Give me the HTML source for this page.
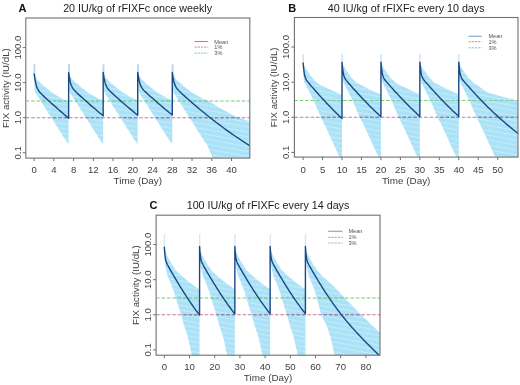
<!DOCTYPE html>
<html><head><meta charset="utf-8"><style>
html,body{margin:0;padding:0;background:#fff;}
body{width:520px;height:385px;position:relative;overflow:hidden;font-family:"Liberation Sans", sans-serif;}
svg text{font-family:"Liberation Sans", sans-serif;}
</style></head><body>
<svg xmlns="http://www.w3.org/2000/svg" width="520" height="385" viewBox="0 0 520 385" style="position:absolute;left:0;top:0;filter:blur(0.35px)">
<defs>
<clipPath id="clipA"><rect x="25.8" y="18" width="224.00" height="140.10"/></clipPath>
<clipPath id="clipB"><rect x="294.4" y="17.5" width="223.60" height="139.60"/></clipPath>
<clipPath id="clipC"><rect x="156.1" y="215.2" width="223.90" height="140.00"/></clipPath>
<pattern id="hatch" patternUnits="userSpaceOnUse" width="12" height="4.8" patternTransform="rotate(10)"><rect width="12" height="4.8" fill="#abe2f7"/><rect y="0" width="12" height="0.8" fill="#fff" fill-opacity="0.38"/></pattern>
</defs>
<g clip-path="url(#clipA)">
<path d="M34.1,73.48 L34.2,73.91 L34.35,74.2 L34.59,74.69 L34.84,75.18 L35.09,75.67 L35.58,76.66 L36.07,77.47 L36.57,78.29 L37.31,79.51 L38.05,80.7 L39.04,81.58 L40.27,82.69 L41.5,83.8 L42.74,84.91 L43.97,86.02 L46.44,88.17 L48.91,90.12 L51.37,92.07 L53.84,93.97 L56.31,95.33 L58.77,96.7 L61.24,98.07 L63.71,99.44 L66.18,100.31 L68.64,101.19 L68.64,144.3 L66.18,141.08 L63.71,137.19 L61.24,133.29 L58.77,129.4 L56.31,125.51 L53.84,121.62 L51.37,117.73 L48.91,113.84 L46.44,109.94 L43.97,106.05 L42.74,104.11 L41.5,102.16 L40.27,100.21 L39.04,98.27 L38.05,96.71 L37.31,95.54 L36.57,94.38 L36.07,93.6 L35.58,92.82 L35.09,92.04 L34.84,90.83 L34.59,89.62 L34.35,81.67 L34.2,76.89 L34.1,73.71Z" fill="url(#hatch)"/>
<path d="M68.64,72.69 L68.74,73.1 L68.89,73.39 L69.14,73.87 L69.39,74.34 L69.63,74.82 L70.13,75.77 L70.62,76.56 L71.11,77.35 L71.85,78.54 L72.59,79.69 L73.58,80.57 L74.81,81.67 L76.05,82.77 L77.28,83.87 L78.52,84.98 L80.98,87.11 L83.45,89.06 L85.92,91.01 L88.38,92.9 L90.85,94.3 L93.32,95.7 L95.79,97.09 L98.25,98.49 L100.72,99.41 L103.19,100.34 L103.19,144.3 L100.72,141.08 L98.25,137.19 L95.79,133.29 L93.32,129.4 L90.85,125.51 L88.38,121.62 L85.92,117.73 L83.45,113.84 L80.98,109.94 L78.52,106.05 L77.28,104.11 L76.05,102.16 L74.81,100.21 L73.58,98.27 L72.59,96.71 L71.85,95.54 L71.11,94.38 L70.62,93.6 L70.13,92.82 L69.63,92.04 L69.39,90.83 L69.14,89.62 L68.89,81.67 L68.74,76.89 L68.64,73.71Z" fill="url(#hatch)"/>
<path d="M103.19,72.56 L103.29,72.97 L103.44,73.25 L103.68,73.72 L103.93,74.2 L104.18,74.67 L104.67,75.61 L105.16,76.4 L105.66,77.19 L106.4,78.37 L107.14,79.51 L108.12,80.39 L109.36,81.49 L110.59,82.59 L111.83,83.68 L113.06,84.78 L115.53,86.91 L118,88.86 L120.46,90.8 L122.93,92.69 L125.4,94.09 L127.86,95.49 L130.33,96.88 L132.8,98.28 L135.27,99.21 L137.73,100.14 L137.73,144.3 L135.27,141.08 L132.8,137.19 L130.33,133.29 L127.86,129.4 L125.4,125.51 L122.93,121.62 L120.46,117.73 L118,113.84 L115.53,109.94 L113.06,106.05 L111.83,104.11 L110.59,102.16 L109.36,100.21 L108.12,98.27 L107.14,96.71 L106.4,95.54 L105.66,94.38 L105.16,93.6 L104.67,92.82 L104.18,92.04 L103.93,90.83 L103.68,89.62 L103.44,81.67 L103.29,76.89 L103.19,73.71Z" fill="url(#hatch)"/>
<path d="M137.73,72.53 L137.83,72.93 L137.98,73.22 L138.23,73.69 L138.48,74.16 L138.72,74.63 L139.22,75.58 L139.71,76.36 L140.2,77.15 L140.94,78.32 L141.68,79.46 L142.67,80.34 L143.9,81.44 L145.14,82.54 L146.37,83.64 L147.6,84.73 L150.07,86.86 L152.54,88.8 L155.01,90.74 L157.47,92.63 L159.94,94.03 L162.41,95.43 L164.88,96.83 L167.34,98.22 L169.81,99.15 L172.28,100.09 L172.28,144.3 L169.81,141.08 L167.34,137.19 L164.88,133.29 L162.41,129.4 L159.94,125.51 L157.47,121.62 L155.01,117.73 L152.54,113.84 L150.07,109.94 L147.6,106.05 L146.37,104.11 L145.14,102.16 L143.9,100.21 L142.67,98.27 L141.68,96.71 L140.94,95.54 L140.2,94.38 L139.71,93.6 L139.22,92.82 L138.72,92.04 L138.48,90.83 L138.23,89.62 L137.98,81.67 L137.83,76.89 L137.73,73.71Z" fill="url(#hatch)"/>
<path d="M172.28,72.52 L172.38,72.93 L172.53,73.21 L172.77,73.68 L173.02,74.15 L173.27,74.62 L173.76,75.57 L174.25,76.35 L174.75,77.14 L175.49,78.31 L176.23,79.45 L177.21,80.33 L178.45,81.43 L179.68,82.53 L180.92,83.62 L182.15,84.72 L184.62,86.84 L187.08,88.79 L189.55,90.73 L192.02,92.61 L194.49,94.01 L196.95,95.41 L199.42,96.81 L201.89,98.2 L204.36,99.14 L206.82,100.07 L209.29,101.59 L211.76,103.1 L214.23,104.61 L216.69,106.12 L219.16,107.63 L221.63,108.97 L224.1,110.29 L226.56,111.6 L229.03,112.92 L231.5,114.23 L233.97,115.54 L236.43,116.71 L238.9,117.62 L241.37,118.51 L243.84,119.41 L246.3,120.31 L248.77,121.21 L251.24,122.11 L251.28,122.12 L251.28,229.9 L251.24,229.82 L248.77,225.18 L246.3,220.54 L243.84,215.89 L241.37,211.25 L238.9,206.6 L236.43,201.96 L233.97,197.32 L231.5,192.67 L229.03,188.03 L226.56,183.38 L224.1,178.74 L221.63,174.09 L219.16,169.45 L216.69,164.81 L214.23,160.16 L211.76,155.52 L209.29,149.91 L206.82,144.3 L204.36,141.08 L201.89,137.19 L199.42,133.29 L196.95,129.4 L194.49,125.51 L192.02,121.62 L189.55,117.73 L187.08,113.84 L184.62,109.94 L182.15,106.05 L180.92,104.11 L179.68,102.16 L178.45,100.21 L177.21,98.27 L176.23,96.71 L175.49,95.54 L174.75,94.38 L174.25,93.6 L173.76,92.82 L173.27,92.04 L173.02,90.83 L172.77,89.62 L172.53,81.67 L172.38,76.89 L172.28,73.71Z" fill="url(#hatch)"/>
<path d="M33.50,74.48 V64.20 h1.9 V76.48Z M68.05,73.69 V64.20 h1.9 V75.69Z M102.59,73.56 V64.20 h1.9 V75.56Z M137.13,73.53 V64.20 h1.9 V75.53Z M171.68,73.52 V64.20 h1.9 V75.52Z" fill="#b8d8f2"/>
<clipPath id="bandA"><path d="M34.1,73.48 L34.2,73.91 L34.35,74.2 L34.59,74.69 L34.84,75.18 L35.09,75.67 L35.58,76.66 L36.07,77.47 L36.57,78.29 L37.31,79.51 L38.05,80.7 L39.04,81.58 L40.27,82.69 L41.5,83.8 L42.74,84.91 L43.97,86.02 L46.44,88.17 L48.91,90.12 L51.37,92.07 L53.84,93.97 L56.31,95.33 L58.77,96.7 L61.24,98.07 L63.71,99.44 L66.18,100.31 L68.64,101.19 L68.64,144.3 L66.18,141.08 L63.71,137.19 L61.24,133.29 L58.77,129.4 L56.31,125.51 L53.84,121.62 L51.37,117.73 L48.91,113.84 L46.44,109.94 L43.97,106.05 L42.74,104.11 L41.5,102.16 L40.27,100.21 L39.04,98.27 L38.05,96.71 L37.31,95.54 L36.57,94.38 L36.07,93.6 L35.58,92.82 L35.09,92.04 L34.84,90.83 L34.59,89.62 L34.35,81.67 L34.2,76.89 L34.1,73.71Z M68.64,72.69 L68.74,73.1 L68.89,73.39 L69.14,73.87 L69.39,74.34 L69.63,74.82 L70.13,75.77 L70.62,76.56 L71.11,77.35 L71.85,78.54 L72.59,79.69 L73.58,80.57 L74.81,81.67 L76.05,82.77 L77.28,83.87 L78.52,84.98 L80.98,87.11 L83.45,89.06 L85.92,91.01 L88.38,92.9 L90.85,94.3 L93.32,95.7 L95.79,97.09 L98.25,98.49 L100.72,99.41 L103.19,100.34 L103.19,144.3 L100.72,141.08 L98.25,137.19 L95.79,133.29 L93.32,129.4 L90.85,125.51 L88.38,121.62 L85.92,117.73 L83.45,113.84 L80.98,109.94 L78.52,106.05 L77.28,104.11 L76.05,102.16 L74.81,100.21 L73.58,98.27 L72.59,96.71 L71.85,95.54 L71.11,94.38 L70.62,93.6 L70.13,92.82 L69.63,92.04 L69.39,90.83 L69.14,89.62 L68.89,81.67 L68.74,76.89 L68.64,73.71Z M103.19,72.56 L103.29,72.97 L103.44,73.25 L103.68,73.72 L103.93,74.2 L104.18,74.67 L104.67,75.61 L105.16,76.4 L105.66,77.19 L106.4,78.37 L107.14,79.51 L108.12,80.39 L109.36,81.49 L110.59,82.59 L111.83,83.68 L113.06,84.78 L115.53,86.91 L118,88.86 L120.46,90.8 L122.93,92.69 L125.4,94.09 L127.86,95.49 L130.33,96.88 L132.8,98.28 L135.27,99.21 L137.73,100.14 L137.73,144.3 L135.27,141.08 L132.8,137.19 L130.33,133.29 L127.86,129.4 L125.4,125.51 L122.93,121.62 L120.46,117.73 L118,113.84 L115.53,109.94 L113.06,106.05 L111.83,104.11 L110.59,102.16 L109.36,100.21 L108.12,98.27 L107.14,96.71 L106.4,95.54 L105.66,94.38 L105.16,93.6 L104.67,92.82 L104.18,92.04 L103.93,90.83 L103.68,89.62 L103.44,81.67 L103.29,76.89 L103.19,73.71Z M137.73,72.53 L137.83,72.93 L137.98,73.22 L138.23,73.69 L138.48,74.16 L138.72,74.63 L139.22,75.58 L139.71,76.36 L140.2,77.15 L140.94,78.32 L141.68,79.46 L142.67,80.34 L143.9,81.44 L145.14,82.54 L146.37,83.64 L147.6,84.73 L150.07,86.86 L152.54,88.8 L155.01,90.74 L157.47,92.63 L159.94,94.03 L162.41,95.43 L164.88,96.83 L167.34,98.22 L169.81,99.15 L172.28,100.09 L172.28,144.3 L169.81,141.08 L167.34,137.19 L164.88,133.29 L162.41,129.4 L159.94,125.51 L157.47,121.62 L155.01,117.73 L152.54,113.84 L150.07,109.94 L147.6,106.05 L146.37,104.11 L145.14,102.16 L143.9,100.21 L142.67,98.27 L141.68,96.71 L140.94,95.54 L140.2,94.38 L139.71,93.6 L139.22,92.82 L138.72,92.04 L138.48,90.83 L138.23,89.62 L137.98,81.67 L137.83,76.89 L137.73,73.71Z M172.28,72.52 L172.38,72.93 L172.53,73.21 L172.77,73.68 L173.02,74.15 L173.27,74.62 L173.76,75.57 L174.25,76.35 L174.75,77.14 L175.49,78.31 L176.23,79.45 L177.21,80.33 L178.45,81.43 L179.68,82.53 L180.92,83.62 L182.15,84.72 L184.62,86.84 L187.08,88.79 L189.55,90.73 L192.02,92.61 L194.49,94.01 L196.95,95.41 L199.42,96.81 L201.89,98.2 L204.36,99.14 L206.82,100.07 L209.29,101.59 L211.76,103.1 L214.23,104.61 L216.69,106.12 L219.16,107.63 L221.63,108.97 L224.1,110.29 L226.56,111.6 L229.03,112.92 L231.5,114.23 L233.97,115.54 L236.43,116.71 L238.9,117.62 L241.37,118.51 L243.84,119.41 L246.3,120.31 L248.77,121.21 L251.24,122.11 L251.28,122.12 L251.28,229.9 L251.24,229.82 L248.77,225.18 L246.3,220.54 L243.84,215.89 L241.37,211.25 L238.9,206.6 L236.43,201.96 L233.97,197.32 L231.5,192.67 L229.03,188.03 L226.56,183.38 L224.1,178.74 L221.63,174.09 L219.16,169.45 L216.69,164.81 L214.23,160.16 L211.76,155.52 L209.29,149.91 L206.82,144.3 L204.36,141.08 L201.89,137.19 L199.42,133.29 L196.95,129.4 L194.49,125.51 L192.02,121.62 L189.55,117.73 L187.08,113.84 L184.62,109.94 L182.15,106.05 L180.92,104.11 L179.68,102.16 L178.45,100.21 L177.21,98.27 L176.23,96.71 L175.49,95.54 L174.75,94.38 L174.25,93.6 L173.76,92.82 L173.27,92.04 L173.02,90.83 L172.77,89.62 L172.53,81.67 L172.38,76.89 L172.28,73.71Z"/></clipPath>
<line x1="25.8" y1="117.70" x2="249.8" y2="117.70" stroke="#c47a9e" stroke-width="1.05" stroke-dasharray="3.6 1.8"/>
<line x1="25.8" y1="117.70" x2="249.8" y2="117.70" stroke="#80829f" stroke-width="1.05" stroke-dasharray="3.6 1.8" clip-path="url(#bandA)"/>
<line x1="25.8" y1="100.98" x2="249.8" y2="100.98" stroke="#76d076" stroke-width="1.05" stroke-dasharray="3.6 1.8"/>
<line x1="25.8" y1="100.98" x2="249.8" y2="100.98" stroke="#7ccfac" stroke-width="1.05" stroke-dasharray="3.6 1.8" clip-path="url(#bandA)"/>
<path d="M34.1,73.48 L34.2,74.22 L34.35,75.29 L34.59,76.98 L34.84,78.55 L35.09,79.99 L35.58,82.5 L36.07,84.57 L36.57,86.26 L37.31,88.23 L38.05,89.71 L39.04,91.23 L40.27,92.72 L41.5,94.01 L42.74,95.21 L43.97,96.38 L46.44,98.66 L48.91,100.92 L51.37,103.16 L53.84,105.38 L56.31,107.57 L58.77,109.75 L61.24,111.9 L63.71,114.03 L66.18,116.13 L68.64,118.21 L68.64,72.69 L68.74,73.4 L68.89,74.42 L69.14,76.03 L69.39,77.5 L69.63,78.86 L70.13,81.21 L70.62,83.14 L71.11,84.71 L71.85,86.54 L72.59,87.93 L73.58,89.37 L74.81,90.8 L76.05,92.06 L77.28,93.24 L78.52,94.38 L80.98,96.62 L83.45,98.84 L85.92,101.03 L88.38,103.21 L90.85,105.35 L93.32,107.48 L95.79,109.58 L98.25,111.66 L100.72,113.71 L103.19,115.74 L103.19,72.56 L103.29,73.26 L103.44,74.27 L103.68,75.86 L103.93,77.33 L104.18,78.67 L104.67,80.99 L105.16,82.9 L105.66,84.45 L106.4,86.26 L107.14,87.63 L108.12,89.05 L109.36,90.47 L110.59,91.71 L111.83,92.88 L113.06,94.02 L115.53,96.25 L118,98.45 L120.46,100.63 L122.93,102.78 L125.4,104.91 L127.86,107.02 L130.33,109.11 L132.8,111.16 L135.27,113.2 L137.73,115.2 L137.73,72.53 L137.83,73.23 L137.98,74.24 L138.23,75.82 L138.48,77.28 L138.72,78.62 L139.22,80.94 L139.71,82.84 L140.2,84.39 L140.94,86.19 L141.68,87.56 L142.67,88.97 L143.9,90.39 L145.14,91.63 L146.37,92.8 L147.6,93.93 L150.07,96.16 L152.54,98.35 L155.01,100.52 L157.47,102.67 L159.94,104.8 L162.41,106.9 L164.88,108.98 L167.34,111.03 L169.81,113.06 L172.28,115.06 L172.28,72.52 L172.38,73.22 L172.53,74.23 L172.77,75.81 L173.02,77.27 L173.27,78.61 L173.76,80.93 L174.25,82.83 L174.75,84.37 L175.49,86.17 L176.23,87.54 L177.21,88.95 L178.45,90.37 L179.68,91.61 L180.92,92.77 L182.15,93.91 L184.62,96.13 L187.08,98.32 L189.55,100.49 L192.02,102.64 L194.49,104.77 L196.95,106.87 L199.42,108.94 L201.89,110.99 L204.36,113.02 L206.82,115.02 L209.29,116.99 L211.76,118.94 L214.23,120.86 L216.69,122.75 L219.16,124.62 L221.63,126.46 L224.1,128.27 L226.56,130.06 L229.03,131.82 L231.5,133.56 L233.97,135.28 L236.43,136.97 L238.9,138.63 L241.37,140.28 L243.84,141.9 L246.3,143.51 L248.77,145.09 L251.24,146.65 L251.28,146.68" fill="none" stroke="#1b4882" stroke-width="1.4" stroke-linejoin="round"/>
</g>
<rect x="25.8" y="18" width="224.00" height="140.10" fill="none" stroke="#707070" stroke-width="1.1"/>
<path d="M34.10,158.1 v3 M53.84,158.1 v3 M73.58,158.1 v3 M93.32,158.1 v3 M113.06,158.1 v3 M132.80,158.1 v3 M152.54,158.1 v3 M172.28,158.1 v3 M192.02,158.1 v3 M211.76,158.1 v3 M231.50,158.1 v3 M25.8,152.75 h-3 M25.8,117.70 h-3 M25.8,82.65 h-3 M25.8,47.60 h-3" stroke="#707070" stroke-width="1" fill="none"/>
<text x="34.10" y="173.10" font-size="9.6" text-anchor="middle" fill="#404040">0</text>
<text x="53.84" y="173.10" font-size="9.6" text-anchor="middle" fill="#404040">4</text>
<text x="73.58" y="173.10" font-size="9.6" text-anchor="middle" fill="#404040">8</text>
<text x="93.32" y="173.10" font-size="9.6" text-anchor="middle" fill="#404040">12</text>
<text x="113.06" y="173.10" font-size="9.6" text-anchor="middle" fill="#404040">16</text>
<text x="132.80" y="173.10" font-size="9.6" text-anchor="middle" fill="#404040">20</text>
<text x="152.54" y="173.10" font-size="9.6" text-anchor="middle" fill="#404040">24</text>
<text x="172.28" y="173.10" font-size="9.6" text-anchor="middle" fill="#404040">28</text>
<text x="192.02" y="173.10" font-size="9.6" text-anchor="middle" fill="#404040">32</text>
<text x="211.76" y="173.10" font-size="9.6" text-anchor="middle" fill="#404040">36</text>
<text x="231.50" y="173.10" font-size="9.6" text-anchor="middle" fill="#404040">40</text>
<text transform="translate(20.85,152.75) rotate(-90)" font-size="9.6" text-anchor="middle" fill="#404040">0.1</text>
<text transform="translate(20.85,117.70) rotate(-90)" font-size="9.6" text-anchor="middle" fill="#404040">1.0</text>
<text transform="translate(20.85,82.65) rotate(-90)" font-size="9.6" text-anchor="middle" fill="#404040">10.0</text>
<text transform="translate(20.85,47.60) rotate(-90)" font-size="9.6" text-anchor="middle" fill="#404040">100.0</text>
<text x="137.80" y="184.10" font-size="9.9" text-anchor="middle" fill="#404040">Time (Day)</text>
<text transform="translate(9.20,88.05) rotate(-90)" font-size="9.7" text-anchor="middle" fill="#404040">FIX activity (IU/dL)</text>
<text x="137.6" y="11.9" font-size="10.73" text-anchor="middle" fill="#1a1a1a">20 IU/kg of rFIXFc once weekly</text>
<text x="18.5" y="11.9" font-size="11" font-weight="bold" fill="#111">A</text>
<line x1="194.6" y1="41.5" x2="208.1" y2="41.5" stroke="#5d8ec4" stroke-width="0.9"/>
<line x1="194.6" y1="47.1" x2="208.1" y2="47.1" stroke="#c47a9e" stroke-width="0.9" stroke-dasharray="2.2 1"/>
<line x1="194.6" y1="53.1" x2="208.1" y2="53.1" stroke="#76d076" stroke-width="0.9" stroke-dasharray="2.2 1"/>
<text x="214.3" y="43.50" font-size="5.6" fill="#555">Mean</text>
<text x="214.3" y="49.10" font-size="5.6" fill="#555">1%</text>
<text x="214.3" y="55.10" font-size="5.6" fill="#555">3%</text>
<g clip-path="url(#clipB)">
<path d="M303.1,62.07 L303.18,62.5 L303.29,63.13 L303.49,63.62 L303.68,64.11 L303.88,64.6 L304.27,65.59 L304.66,66.3 L305.05,67.02 L305.63,68.1 L306.21,69.16 L306.99,70.3 L307.97,71.72 L308.94,73.15 L309.91,74.58 L310.88,76 L312.83,78.59 L314.78,80.5 L316.72,82.42 L318.67,84 L320.61,84.94 L322.56,85.89 L324.51,86.83 L326.45,87.78 L328.4,88.72 L330.34,89.66 L332.29,90.61 L334.24,91.52 L336.18,92.36 L338.13,93.21 L340.07,94.05 L342.02,94.74 L342.02,162.9 L340.07,158.28 L338.13,153.92 L336.18,149.69 L334.24,145.46 L332.29,141.23 L330.34,137 L328.4,132.77 L326.45,128.54 L324.51,124.39 L322.56,120.66 L320.61,116.84 L318.67,112.26 L316.72,107.68 L314.78,103.1 L312.83,98.84 L310.88,94.96 L309.91,93.02 L308.94,91.08 L307.97,89.15 L306.99,87.21 L306.21,85.66 L305.63,84.5 L305.05,83.33 L304.66,82.56 L304.27,81.78 L303.88,81.01 L303.68,79.8 L303.49,78.58 L303.29,70.33 L303.18,65.38 L303.1,62.55Z" fill="url(#hatch)"/>
<path d="M342.02,61.7 L342.1,62.11 L342.21,62.73 L342.41,63.22 L342.6,63.7 L342.8,64.18 L343.19,65.15 L343.58,65.86 L343.97,66.56 L344.55,67.62 L345.13,68.67 L345.91,69.8 L346.88,71.21 L347.86,72.61 L348.83,74.02 L349.8,75.43 L351.75,77.98 L353.7,79.88 L355.64,81.79 L357.59,83.37 L359.53,84.34 L361.48,85.31 L363.43,86.28 L365.37,87.24 L367.32,88.2 L369.26,89.17 L371.21,90.13 L373.16,91.05 L375.1,91.92 L377.05,92.78 L378.99,93.64 L380.94,94.35 L380.94,162.9 L378.99,158.28 L377.05,153.92 L375.1,149.69 L373.16,145.46 L371.21,141.23 L369.26,137 L367.32,132.77 L365.37,128.54 L363.43,124.39 L361.48,120.66 L359.53,116.84 L357.59,112.26 L355.64,107.68 L353.7,103.1 L351.75,98.84 L349.8,94.96 L348.83,93.02 L347.86,91.08 L346.88,89.15 L345.91,87.21 L345.13,85.66 L344.55,84.5 L343.97,83.33 L343.58,82.56 L343.19,81.78 L342.8,81.01 L342.6,79.8 L342.41,78.58 L342.21,70.33 L342.1,65.38 L342.02,62.17Z" fill="url(#hatch)"/>
<path d="M380.94,61.66 L381.02,62.07 L381.13,62.68 L381.33,63.17 L381.52,63.65 L381.72,64.13 L382.11,65.1 L382.5,65.8 L382.89,66.51 L383.47,67.56 L384.05,68.61 L384.83,69.73 L385.81,71.14 L386.78,72.54 L387.75,73.94 L388.72,75.35 L390.67,77.9 L392.62,79.8 L394.56,81.69 L396.51,83.28 L398.45,84.25 L400.4,85.22 L402.35,86.19 L404.29,87.15 L406.24,88.12 L408.18,89.08 L410.13,90.05 L412.08,90.98 L414.02,91.84 L415.97,92.7 L417.91,93.56 L419.86,94.28 L419.86,162.9 L417.91,158.28 L415.97,153.92 L414.02,149.69 L412.08,145.46 L410.13,141.23 L408.18,137 L406.24,132.77 L404.29,128.54 L402.35,124.39 L400.4,120.66 L398.45,116.84 L396.51,112.26 L394.56,107.68 L392.62,103.1 L390.67,98.84 L388.72,94.96 L387.75,93.02 L386.78,91.08 L385.81,89.15 L384.83,87.21 L384.05,85.66 L383.47,84.5 L382.89,83.33 L382.5,82.56 L382.11,81.78 L381.72,81.01 L381.52,79.8 L381.33,78.58 L381.13,70.33 L381.02,65.38 L380.94,62.12Z" fill="url(#hatch)"/>
<path d="M419.86,61.65 L419.94,62.06 L420.05,62.68 L420.25,63.16 L420.44,63.64 L420.64,64.12 L421.03,65.09 L421.42,65.79 L421.81,66.5 L422.39,67.55 L422.97,68.59 L423.75,69.72 L424.73,71.12 L425.7,72.53 L426.67,73.93 L427.64,75.33 L429.59,77.88 L431.54,79.78 L433.48,81.68 L435.43,83.26 L437.37,84.23 L439.32,85.2 L441.27,86.17 L443.21,87.14 L445.16,88.1 L447.1,89.07 L449.05,90.03 L451,90.96 L452.94,91.82 L454.89,92.69 L456.83,93.55 L458.78,94.26 L458.78,162.9 L456.83,158.28 L454.89,153.92 L452.94,149.69 L451,145.46 L449.05,141.23 L447.1,137 L445.16,132.77 L443.21,128.54 L441.27,124.39 L439.32,120.66 L437.37,116.84 L435.43,112.26 L433.48,107.68 L431.54,103.1 L429.59,98.84 L427.64,94.96 L426.67,93.02 L425.7,91.08 L424.73,89.15 L423.75,87.21 L422.97,85.66 L422.39,84.5 L421.81,83.33 L421.42,82.56 L421.03,81.78 L420.64,81.01 L420.44,79.8 L420.25,78.58 L420.05,70.33 L419.94,65.38 L419.86,62.11Z" fill="url(#hatch)"/>
<path d="M458.78,61.65 L458.86,62.06 L458.97,62.67 L459.17,63.16 L459.36,63.64 L459.56,64.12 L459.95,65.08 L460.34,65.79 L460.73,66.49 L461.31,67.55 L461.89,68.59 L462.67,69.72 L463.64,71.12 L464.62,72.53 L465.59,73.93 L466.56,75.33 L468.51,77.88 L470.46,79.78 L472.4,81.67 L474.35,83.38 L476.29,84.71 L478.24,86.04 L480.19,87.37 L482.13,88.7 L484.08,90.03 L486.02,91.35 L487.97,92.68 L489.92,93.23 L491.86,93.77 L493.81,94.31 L495.75,94.85 L497.7,95.38 L499.65,95.91 L501.59,96.45 L503.54,96.98 L505.48,97.5 L507.43,98.03 L509.38,98.56 L511.32,99.08 L513.27,99.6 L515.21,100.13 L517.16,100.66 L519.11,101.25 L519.17,101.27 L519.17,214.57 L519.11,214.42 L517.16,209.74 L515.21,205.05 L513.27,200.37 L511.32,195.68 L509.38,191 L507.43,186.32 L505.48,181.63 L503.54,176.95 L501.59,172.26 L499.65,167.58 L497.7,162.9 L495.75,158.28 L493.81,153.92 L491.86,149.69 L489.92,145.46 L487.97,141.23 L486.02,137 L484.08,132.77 L482.13,128.54 L480.19,124.39 L478.24,120.66 L476.29,116.84 L474.35,112.26 L472.4,107.68 L470.46,103.1 L468.51,98.84 L466.56,94.96 L465.59,93.02 L464.62,91.08 L463.64,89.15 L462.67,87.21 L461.89,85.66 L461.31,84.5 L460.73,83.33 L460.34,82.56 L459.95,81.78 L459.56,81.01 L459.36,79.8 L459.17,78.58 L458.97,70.33 L458.86,65.38 L458.78,62.11Z" fill="url(#hatch)"/>
<path d="M302.50,63.55 V54.33 h1.4 V65.55Z M341.42,63.17 V54.33 h1.4 V65.17Z M380.34,63.12 V54.33 h1.4 V65.12Z M419.26,63.11 V54.33 h1.4 V65.11Z M458.18,63.11 V54.33 h1.4 V65.11Z" fill="#cbe3f0"/>
<clipPath id="bandB"><path d="M303.1,62.07 L303.18,62.5 L303.29,63.13 L303.49,63.62 L303.68,64.11 L303.88,64.6 L304.27,65.59 L304.66,66.3 L305.05,67.02 L305.63,68.1 L306.21,69.16 L306.99,70.3 L307.97,71.72 L308.94,73.15 L309.91,74.58 L310.88,76 L312.83,78.59 L314.78,80.5 L316.72,82.42 L318.67,84 L320.61,84.94 L322.56,85.89 L324.51,86.83 L326.45,87.78 L328.4,88.72 L330.34,89.66 L332.29,90.61 L334.24,91.52 L336.18,92.36 L338.13,93.21 L340.07,94.05 L342.02,94.74 L342.02,162.9 L340.07,158.28 L338.13,153.92 L336.18,149.69 L334.24,145.46 L332.29,141.23 L330.34,137 L328.4,132.77 L326.45,128.54 L324.51,124.39 L322.56,120.66 L320.61,116.84 L318.67,112.26 L316.72,107.68 L314.78,103.1 L312.83,98.84 L310.88,94.96 L309.91,93.02 L308.94,91.08 L307.97,89.15 L306.99,87.21 L306.21,85.66 L305.63,84.5 L305.05,83.33 L304.66,82.56 L304.27,81.78 L303.88,81.01 L303.68,79.8 L303.49,78.58 L303.29,70.33 L303.18,65.38 L303.1,62.55Z M342.02,61.7 L342.1,62.11 L342.21,62.73 L342.41,63.22 L342.6,63.7 L342.8,64.18 L343.19,65.15 L343.58,65.86 L343.97,66.56 L344.55,67.62 L345.13,68.67 L345.91,69.8 L346.88,71.21 L347.86,72.61 L348.83,74.02 L349.8,75.43 L351.75,77.98 L353.7,79.88 L355.64,81.79 L357.59,83.37 L359.53,84.34 L361.48,85.31 L363.43,86.28 L365.37,87.24 L367.32,88.2 L369.26,89.17 L371.21,90.13 L373.16,91.05 L375.1,91.92 L377.05,92.78 L378.99,93.64 L380.94,94.35 L380.94,162.9 L378.99,158.28 L377.05,153.92 L375.1,149.69 L373.16,145.46 L371.21,141.23 L369.26,137 L367.32,132.77 L365.37,128.54 L363.43,124.39 L361.48,120.66 L359.53,116.84 L357.59,112.26 L355.64,107.68 L353.7,103.1 L351.75,98.84 L349.8,94.96 L348.83,93.02 L347.86,91.08 L346.88,89.15 L345.91,87.21 L345.13,85.66 L344.55,84.5 L343.97,83.33 L343.58,82.56 L343.19,81.78 L342.8,81.01 L342.6,79.8 L342.41,78.58 L342.21,70.33 L342.1,65.38 L342.02,62.17Z M380.94,61.66 L381.02,62.07 L381.13,62.68 L381.33,63.17 L381.52,63.65 L381.72,64.13 L382.11,65.1 L382.5,65.8 L382.89,66.51 L383.47,67.56 L384.05,68.61 L384.83,69.73 L385.81,71.14 L386.78,72.54 L387.75,73.94 L388.72,75.35 L390.67,77.9 L392.62,79.8 L394.56,81.69 L396.51,83.28 L398.45,84.25 L400.4,85.22 L402.35,86.19 L404.29,87.15 L406.24,88.12 L408.18,89.08 L410.13,90.05 L412.08,90.98 L414.02,91.84 L415.97,92.7 L417.91,93.56 L419.86,94.28 L419.86,162.9 L417.91,158.28 L415.97,153.92 L414.02,149.69 L412.08,145.46 L410.13,141.23 L408.18,137 L406.24,132.77 L404.29,128.54 L402.35,124.39 L400.4,120.66 L398.45,116.84 L396.51,112.26 L394.56,107.68 L392.62,103.1 L390.67,98.84 L388.72,94.96 L387.75,93.02 L386.78,91.08 L385.81,89.15 L384.83,87.21 L384.05,85.66 L383.47,84.5 L382.89,83.33 L382.5,82.56 L382.11,81.78 L381.72,81.01 L381.52,79.8 L381.33,78.58 L381.13,70.33 L381.02,65.38 L380.94,62.12Z M419.86,61.65 L419.94,62.06 L420.05,62.68 L420.25,63.16 L420.44,63.64 L420.64,64.12 L421.03,65.09 L421.42,65.79 L421.81,66.5 L422.39,67.55 L422.97,68.59 L423.75,69.72 L424.73,71.12 L425.7,72.53 L426.67,73.93 L427.64,75.33 L429.59,77.88 L431.54,79.78 L433.48,81.68 L435.43,83.26 L437.37,84.23 L439.32,85.2 L441.27,86.17 L443.21,87.14 L445.16,88.1 L447.1,89.07 L449.05,90.03 L451,90.96 L452.94,91.82 L454.89,92.69 L456.83,93.55 L458.78,94.26 L458.78,162.9 L456.83,158.28 L454.89,153.92 L452.94,149.69 L451,145.46 L449.05,141.23 L447.1,137 L445.16,132.77 L443.21,128.54 L441.27,124.39 L439.32,120.66 L437.37,116.84 L435.43,112.26 L433.48,107.68 L431.54,103.1 L429.59,98.84 L427.64,94.96 L426.67,93.02 L425.7,91.08 L424.73,89.15 L423.75,87.21 L422.97,85.66 L422.39,84.5 L421.81,83.33 L421.42,82.56 L421.03,81.78 L420.64,81.01 L420.44,79.8 L420.25,78.58 L420.05,70.33 L419.94,65.38 L419.86,62.11Z M458.78,61.65 L458.86,62.06 L458.97,62.67 L459.17,63.16 L459.36,63.64 L459.56,64.12 L459.95,65.08 L460.34,65.79 L460.73,66.49 L461.31,67.55 L461.89,68.59 L462.67,69.72 L463.64,71.12 L464.62,72.53 L465.59,73.93 L466.56,75.33 L468.51,77.88 L470.46,79.78 L472.4,81.67 L474.35,83.38 L476.29,84.71 L478.24,86.04 L480.19,87.37 L482.13,88.7 L484.08,90.03 L486.02,91.35 L487.97,92.68 L489.92,93.23 L491.86,93.77 L493.81,94.31 L495.75,94.85 L497.7,95.38 L499.65,95.91 L501.59,96.45 L503.54,96.98 L505.48,97.5 L507.43,98.03 L509.38,98.56 L511.32,99.08 L513.27,99.6 L515.21,100.13 L517.16,100.66 L519.11,101.25 L519.17,101.27 L519.17,214.57 L519.11,214.42 L517.16,209.74 L515.21,205.05 L513.27,200.37 L511.32,195.68 L509.38,191 L507.43,186.32 L505.48,181.63 L503.54,176.95 L501.59,172.26 L499.65,167.58 L497.7,162.9 L495.75,158.28 L493.81,153.92 L491.86,149.69 L489.92,145.46 L487.97,141.23 L486.02,137 L484.08,132.77 L482.13,128.54 L480.19,124.39 L478.24,120.66 L476.29,116.84 L474.35,112.26 L472.4,107.68 L470.46,103.1 L468.51,98.84 L466.56,94.96 L465.59,93.02 L464.62,91.08 L463.64,89.15 L462.67,87.21 L461.89,85.66 L461.31,84.5 L460.73,83.33 L460.34,82.56 L459.95,81.78 L459.56,81.01 L459.36,79.8 L459.17,78.58 L458.97,70.33 L458.86,65.38 L458.78,62.11Z"/></clipPath>
<line x1="294.4" y1="117.30" x2="518" y2="117.30" stroke="#c47a9e" stroke-width="1.05" stroke-dasharray="3.6 1.8"/>
<line x1="294.4" y1="117.30" x2="518" y2="117.30" stroke="#80829f" stroke-width="1.05" stroke-dasharray="3.6 1.8" clip-path="url(#bandB)"/>
<line x1="294.4" y1="100.54" x2="518" y2="100.54" stroke="#76d076" stroke-width="1.05" stroke-dasharray="3.6 1.8"/>
<line x1="294.4" y1="100.54" x2="518" y2="100.54" stroke="#7ccfac" stroke-width="1.05" stroke-dasharray="3.6 1.8" clip-path="url(#bandB)"/>
<path d="M303.1,62.55 L303.18,63.51 L303.29,64.87 L303.49,66.97 L303.68,68.86 L303.88,70.52 L304.27,73.26 L304.66,75.31 L305.05,76.85 L305.63,78.49 L306.21,79.67 L306.99,80.88 L307.97,82.15 L308.94,83.32 L309.91,84.47 L310.88,85.6 L312.83,87.85 L314.78,90.07 L316.72,92.27 L318.67,94.45 L320.61,96.6 L322.56,98.73 L324.51,100.83 L326.45,102.91 L328.4,104.96 L330.34,106.99 L332.29,108.98 L334.24,110.95 L336.18,112.89 L338.13,114.8 L340.07,116.68 L342.02,118.54 L342.02,62.17 L342.1,63.1 L342.21,64.43 L342.41,66.48 L342.6,68.3 L342.8,69.91 L343.19,72.54 L343.58,74.52 L343.97,75.99 L344.55,77.58 L345.13,78.71 L345.91,79.89 L346.88,81.14 L347.86,82.29 L348.83,83.42 L349.8,84.54 L351.75,86.74 L353.7,88.93 L355.64,91.09 L357.59,93.22 L359.53,95.33 L361.48,97.42 L363.43,99.48 L365.37,101.51 L367.32,103.51 L369.26,105.49 L371.21,107.44 L373.16,109.36 L375.1,111.24 L377.05,113.11 L378.99,114.94 L380.94,116.74 L380.94,62.12 L381.02,63.05 L381.13,64.38 L381.33,66.41 L381.52,68.23 L381.72,69.83 L382.11,72.45 L382.5,74.42 L382.89,75.88 L383.47,77.46 L384.05,78.59 L384.83,79.77 L385.81,81.01 L386.78,82.16 L387.75,83.28 L388.72,84.39 L390.67,86.59 L392.62,88.77 L394.56,90.92 L396.51,93.04 L398.45,95.15 L400.4,97.22 L402.35,99.27 L404.29,101.29 L406.24,103.28 L408.18,105.25 L410.13,107.19 L412.08,109.09 L414.02,110.97 L415.97,112.82 L417.91,114.64 L419.86,116.43 L419.86,62.11 L419.94,63.04 L420.05,64.37 L420.25,66.4 L420.44,68.22 L420.64,69.82 L421.03,72.44 L421.42,74.4 L421.81,75.87 L422.39,77.44 L422.97,78.57 L423.75,79.74 L424.73,80.98 L425.7,82.13 L426.67,83.26 L427.64,84.37 L429.59,86.56 L431.54,88.74 L433.48,90.89 L435.43,93.01 L437.37,95.11 L439.32,97.18 L441.27,99.23 L443.21,101.25 L445.16,103.24 L447.1,105.2 L449.05,107.14 L451,109.04 L452.94,110.92 L454.89,112.76 L456.83,114.58 L458.78,116.37 L458.78,62.11 L458.86,63.04 L458.97,64.37 L459.17,66.4 L459.36,68.21 L459.56,69.82 L459.95,72.43 L460.34,74.4 L460.73,75.86 L461.31,77.43 L461.89,78.57 L462.67,79.74 L463.64,80.98 L464.62,82.13 L465.59,83.25 L466.56,84.36 L468.51,86.56 L470.46,88.73 L472.4,90.88 L474.35,93 L476.29,95.1 L478.24,97.18 L480.19,99.22 L482.13,101.24 L484.08,103.23 L486.02,105.19 L487.97,107.13 L489.92,109.03 L491.86,110.91 L493.81,112.75 L495.75,114.57 L497.7,116.36 L499.65,118.12 L501.59,119.85 L503.54,121.56 L505.48,123.24 L507.43,124.89 L509.38,126.51 L511.32,128.12 L513.27,129.69 L515.21,131.25 L517.16,132.78 L519.11,134.29 L519.17,134.34" fill="none" stroke="#1b4882" stroke-width="1.4" stroke-linejoin="round"/>
</g>
<rect x="294.4" y="17.5" width="223.60" height="139.60" fill="none" stroke="#707070" stroke-width="1.1"/>
<path d="M303.10,157.1 v3 M322.56,157.1 v3 M342.02,157.1 v3 M361.48,157.1 v3 M380.94,157.1 v3 M400.40,157.1 v3 M419.86,157.1 v3 M439.32,157.1 v3 M458.78,157.1 v3 M478.24,157.1 v3 M497.70,157.1 v3 M294.4,152.43 h-3 M294.4,117.30 h-3 M294.4,82.17 h-3 M294.4,47.04 h-3" stroke="#707070" stroke-width="1" fill="none"/>
<text x="303.10" y="172.70" font-size="9.6" text-anchor="middle" fill="#404040">0</text>
<text x="322.56" y="172.70" font-size="9.6" text-anchor="middle" fill="#404040">5</text>
<text x="342.02" y="172.70" font-size="9.6" text-anchor="middle" fill="#404040">10</text>
<text x="361.48" y="172.70" font-size="9.6" text-anchor="middle" fill="#404040">15</text>
<text x="380.94" y="172.70" font-size="9.6" text-anchor="middle" fill="#404040">20</text>
<text x="400.40" y="172.70" font-size="9.6" text-anchor="middle" fill="#404040">25</text>
<text x="419.86" y="172.70" font-size="9.6" text-anchor="middle" fill="#404040">30</text>
<text x="439.32" y="172.70" font-size="9.6" text-anchor="middle" fill="#404040">35</text>
<text x="458.78" y="172.70" font-size="9.6" text-anchor="middle" fill="#404040">40</text>
<text x="478.24" y="172.70" font-size="9.6" text-anchor="middle" fill="#404040">45</text>
<text x="497.70" y="172.70" font-size="9.6" text-anchor="middle" fill="#404040">50</text>
<text transform="translate(288.80,152.43) rotate(-90)" font-size="9.6" text-anchor="middle" fill="#404040">0.1</text>
<text transform="translate(288.80,117.30) rotate(-90)" font-size="9.6" text-anchor="middle" fill="#404040">1.0</text>
<text transform="translate(288.80,82.17) rotate(-90)" font-size="9.6" text-anchor="middle" fill="#404040">10.0</text>
<text transform="translate(288.80,47.04) rotate(-90)" font-size="9.6" text-anchor="middle" fill="#404040">100.0</text>
<text x="406.20" y="183.70" font-size="9.9" text-anchor="middle" fill="#404040">Time (Day)</text>
<text transform="translate(276.50,87.30) rotate(-90)" font-size="9.7" text-anchor="middle" fill="#404040">FIX activity (IU/dL)</text>
<text x="406.2" y="11.9" font-size="10.73" text-anchor="middle" fill="#1a1a1a">40 IU/kg of rFIXFc every 10 days</text>
<text x="288.3" y="11.9" font-size="11" font-weight="bold" fill="#111">B</text>
<line x1="468.5" y1="36.25" x2="481.6" y2="36.25" stroke="#5d8ec4" stroke-width="0.9"/>
<line x1="468.5" y1="41.7" x2="481.6" y2="41.7" stroke="#c47a9e" stroke-width="0.9" stroke-dasharray="2.2 1"/>
<line x1="468.5" y1="47.8" x2="481.6" y2="47.8" stroke="#76d076" stroke-width="0.9" stroke-dasharray="2.2 1"/>
<text x="488.4" y="38.25" font-size="5.6" fill="#555">Mean</text>
<text x="488.4" y="43.70" font-size="5.6" fill="#555">1%</text>
<text x="488.4" y="49.80" font-size="5.6" fill="#555">3%</text>
<g clip-path="url(#clipC)">
<path d="M164.3,246.36 L164.35,246.64 L164.43,247.06 L164.55,247.62 L164.68,248.18 L164.8,248.74 L165.06,249.87 L165.31,250.62 L165.56,251.37 L165.94,252.5 L166.32,253.63 L166.82,255.13 L167.45,256.28 L168.08,257.44 L168.71,258.59 L169.34,259.75 L170.6,262.06 L171.86,264.29 L173.12,266.23 L174.38,268.17 L175.64,270.1 L176.9,271.48 L178.16,272.63 L179.42,273.79 L180.68,274.94 L181.94,276.1 L183.2,277.25 L184.46,278.33 L185.72,279.33 L186.98,280.34 L188.24,281.34 L189.5,282.35 L190.76,283.35 L192.02,284.31 L193.28,285.18 L194.54,286.05 L195.8,286.92 L197.06,287.78 L198.32,288.65 L199.58,289.53 L199.58,381.49 L198.32,377.16 L197.06,372.82 L195.8,368.49 L194.54,364.15 L193.28,359.82 L192.02,355.48 L190.76,350.13 L189.5,344.26 L188.24,338.39 L186.98,334.35 L185.72,330.55 L184.46,326.76 L183.2,322.36 L181.94,317.8 L180.68,313.47 L179.42,309.56 L178.16,305.65 L176.9,301.74 L175.64,297.74 L174.38,293.02 L173.12,289.38 L171.86,286.21 L170.6,283.09 L169.34,280.11 L168.71,278.62 L168.08,277.14 L167.45,275.4 L166.82,272.66 L166.32,270.47 L165.94,268.83 L165.56,267.19 L165.31,266.1 L165.06,264.16 L164.8,261.65 L164.68,260.39 L164.55,259.14 L164.43,254.03 L164.35,249.43 L164.3,246.74Z" fill="url(#hatch)"/>
<path d="M199.58,246.19 L199.63,246.47 L199.71,246.88 L199.83,247.44 L199.96,248 L200.08,248.56 L200.34,249.67 L200.59,250.41 L200.84,251.16 L201.22,252.28 L201.6,253.4 L202.1,254.89 L202.73,256.04 L203.36,257.19 L203.99,258.34 L204.62,259.49 L205.88,261.78 L207.14,264 L208.4,265.93 L209.66,267.86 L210.92,269.78 L212.18,271.16 L213.44,272.32 L214.7,273.48 L215.96,274.64 L217.22,275.8 L218.48,276.96 L219.74,278.04 L221,279.05 L222.26,280.06 L223.52,281.07 L224.78,282.08 L226.04,283.09 L227.3,284.06 L228.56,284.93 L229.82,285.81 L231.08,286.68 L232.34,287.55 L233.6,288.43 L234.86,289.31 L234.86,381.49 L233.6,377.16 L232.34,372.82 L231.08,368.49 L229.82,364.15 L228.56,359.82 L227.3,355.48 L226.04,350.13 L224.78,344.26 L223.52,338.39 L222.26,334.35 L221,330.55 L219.74,326.76 L218.48,322.36 L217.22,317.8 L215.96,313.47 L214.7,309.56 L213.44,305.65 L212.18,301.74 L210.92,297.74 L209.66,293.02 L208.4,289.38 L207.14,286.21 L205.88,283.09 L204.62,280.11 L203.99,278.62 L203.36,277.14 L202.73,275.4 L202.1,272.66 L201.6,270.47 L201.22,268.83 L200.84,267.19 L200.59,266.1 L200.34,264.16 L200.08,261.65 L199.96,260.39 L199.83,259.14 L199.71,254.03 L199.63,249.43 L199.58,246.57Z" fill="url(#hatch)"/>
<path d="M234.86,246.18 L234.91,246.45 L234.99,246.87 L235.11,247.43 L235.24,247.98 L235.36,248.54 L235.62,249.65 L235.87,250.4 L236.12,251.14 L236.5,252.26 L236.88,253.38 L237.38,254.87 L238.01,256.02 L238.64,257.17 L239.27,258.32 L239.9,259.46 L241.16,261.76 L242.42,263.98 L243.68,265.9 L244.94,267.83 L246.2,269.76 L247.46,271.13 L248.72,272.29 L249.98,273.45 L251.24,274.61 L252.5,275.77 L253.76,276.93 L255.02,278.01 L256.28,279.02 L257.54,280.03 L258.8,281.04 L260.06,282.06 L261.32,283.07 L262.58,284.03 L263.84,284.9 L265.1,285.78 L266.36,286.65 L267.62,287.53 L268.88,288.4 L270.14,289.28 L270.14,381.49 L268.88,377.16 L267.62,372.82 L266.36,368.49 L265.1,364.15 L263.84,359.82 L262.58,355.48 L261.32,350.13 L260.06,344.26 L258.8,338.39 L257.54,334.35 L256.28,330.55 L255.02,326.76 L253.76,322.36 L252.5,317.8 L251.24,313.47 L249.98,309.56 L248.72,305.65 L247.46,301.74 L246.2,297.74 L244.94,293.02 L243.68,289.38 L242.42,286.21 L241.16,283.09 L239.9,280.11 L239.27,278.62 L238.64,277.14 L238.01,275.4 L237.38,272.66 L236.88,270.47 L236.5,268.83 L236.12,267.19 L235.87,266.1 L235.62,264.16 L235.36,261.65 L235.24,260.39 L235.11,259.14 L234.99,254.03 L234.91,249.43 L234.86,246.55Z" fill="url(#hatch)"/>
<path d="M270.14,246.17 L270.19,246.45 L270.27,246.87 L270.39,247.43 L270.52,247.98 L270.64,248.54 L270.9,249.65 L271.15,250.4 L271.4,251.14 L271.78,252.26 L272.16,253.38 L272.66,254.87 L273.29,256.02 L273.92,257.17 L274.55,258.31 L275.18,259.46 L276.44,261.75 L277.7,263.97 L278.96,265.9 L280.22,267.83 L281.48,269.75 L282.74,271.13 L284,272.29 L285.26,273.45 L286.52,274.61 L287.78,275.77 L289.04,276.92 L290.3,278.01 L291.56,279.02 L292.82,280.03 L294.08,281.04 L295.34,282.05 L296.6,283.06 L297.86,284.03 L299.12,284.9 L300.38,285.78 L301.64,286.65 L302.9,287.53 L304.16,288.4 L305.42,289.28 L305.42,381.49 L304.16,377.16 L302.9,372.82 L301.64,368.49 L300.38,364.15 L299.12,359.82 L297.86,355.48 L296.6,350.13 L295.34,344.26 L294.08,338.39 L292.82,334.35 L291.56,330.55 L290.3,326.76 L289.04,322.36 L287.78,317.8 L286.52,313.47 L285.26,309.56 L284,305.65 L282.74,301.74 L281.48,297.74 L280.22,293.02 L278.96,289.38 L277.7,286.21 L276.44,283.09 L275.18,280.11 L274.55,278.62 L273.92,277.14 L273.29,275.4 L272.66,272.66 L272.16,270.47 L271.78,268.83 L271.4,267.19 L271.15,266.1 L270.9,264.16 L270.64,261.65 L270.52,260.39 L270.39,259.14 L270.27,254.03 L270.19,249.43 L270.14,246.55Z" fill="url(#hatch)"/>
<path d="M305.42,246.17 L305.47,246.45 L305.55,246.87 L305.67,247.43 L305.8,247.98 L305.92,248.54 L306.18,249.65 L306.43,250.4 L306.68,251.14 L307.06,252.26 L307.44,253.38 L307.94,254.87 L308.57,256.02 L309.2,257.17 L309.83,258.33 L310.46,259.48 L311.72,261.78 L312.98,263.99 L314.24,265.84 L315.5,267.68 L316.76,269.53 L318.02,271.37 L319.28,272.76 L320.54,274.11 L321.8,275.46 L323.06,276.76 L324.32,277.89 L325.58,279.02 L326.84,280.14 L328.1,281.27 L329.36,282.39 L330.62,283.52 L331.88,284.64 L333.14,285.77 L334.4,286.89 L335.66,288.14 L336.92,289.51 L338.18,290.89 L339.44,292.26 L340.7,293.63 L341.96,295 L343.22,296.34 L344.48,297.62 L345.74,298.89 L347,300.16 L348.26,301.44 L349.52,302.71 L350.78,304.04 L352.04,305.39 L353.3,306.75 L354.56,308.1 L355.82,309.46 L357.08,310.81 L358.34,312.11 L359.6,313.32 L360.86,314.53 L362.12,315.74 L363.38,316.95 L364.64,318.16 L365.9,319.37 L367.16,320.58 L368.42,321.79 L369.68,323 L370.94,324.21 L372.2,325.42 L373.46,326.63 L374.72,327.84 L375.98,329.05 L377.24,330.22 L378.5,331.39 L379.76,332.56 L380.76,333.48 L380.76,514.94 L379.76,511.49 L378.5,507.13 L377.24,502.77 L375.98,498.4 L374.72,494.04 L373.46,489.68 L372.2,485.32 L370.94,480.95 L369.68,476.59 L368.42,472.23 L367.16,467.87 L365.9,463.5 L364.64,459.14 L363.38,454.78 L362.12,450.42 L360.86,446.05 L359.6,441.69 L358.34,437.33 L357.08,432.97 L355.82,428.6 L354.56,424.24 L353.3,419.88 L352.04,415.52 L350.78,411.15 L349.52,406.79 L348.26,402.43 L347,398.07 L345.74,393.7 L344.48,389.34 L343.22,384.98 L341.96,380.62 L340.7,376.26 L339.44,371.89 L338.18,367.53 L336.92,363.17 L335.66,358.81 L334.4,354.44 L333.14,348.76 L331.88,342.93 L330.62,337.31 L329.36,333.54 L328.1,329.77 L326.84,326 L325.58,323.49 L324.32,320.98 L323.06,318.47 L321.8,315.95 L320.54,312.2 L319.28,307.37 L318.02,302.55 L316.76,297.74 L315.5,293.02 L314.24,289.38 L312.98,286.21 L311.72,283.09 L310.46,280.11 L309.83,278.62 L309.2,277.14 L308.57,275.4 L307.94,272.66 L307.44,270.47 L307.06,268.83 L306.68,267.19 L306.43,266.1 L306.18,264.16 L305.92,261.65 L305.8,260.39 L305.67,259.14 L305.55,254.03 L305.47,249.43 L305.42,246.55Z" fill="url(#hatch)"/>
<path d="M163.70,247.74 V234.03 h1.4 V249.74Z M198.98,247.57 V234.03 h1.4 V249.57Z M234.26,247.55 V234.03 h1.4 V249.55Z M269.54,247.55 V234.03 h1.4 V249.55Z M304.82,247.55 V234.03 h1.4 V249.55Z" fill="#d9e8f0"/>
<clipPath id="bandC"><path d="M164.3,246.36 L164.35,246.64 L164.43,247.06 L164.55,247.62 L164.68,248.18 L164.8,248.74 L165.06,249.87 L165.31,250.62 L165.56,251.37 L165.94,252.5 L166.32,253.63 L166.82,255.13 L167.45,256.28 L168.08,257.44 L168.71,258.59 L169.34,259.75 L170.6,262.06 L171.86,264.29 L173.12,266.23 L174.38,268.17 L175.64,270.1 L176.9,271.48 L178.16,272.63 L179.42,273.79 L180.68,274.94 L181.94,276.1 L183.2,277.25 L184.46,278.33 L185.72,279.33 L186.98,280.34 L188.24,281.34 L189.5,282.35 L190.76,283.35 L192.02,284.31 L193.28,285.18 L194.54,286.05 L195.8,286.92 L197.06,287.78 L198.32,288.65 L199.58,289.53 L199.58,381.49 L198.32,377.16 L197.06,372.82 L195.8,368.49 L194.54,364.15 L193.28,359.82 L192.02,355.48 L190.76,350.13 L189.5,344.26 L188.24,338.39 L186.98,334.35 L185.72,330.55 L184.46,326.76 L183.2,322.36 L181.94,317.8 L180.68,313.47 L179.42,309.56 L178.16,305.65 L176.9,301.74 L175.64,297.74 L174.38,293.02 L173.12,289.38 L171.86,286.21 L170.6,283.09 L169.34,280.11 L168.71,278.62 L168.08,277.14 L167.45,275.4 L166.82,272.66 L166.32,270.47 L165.94,268.83 L165.56,267.19 L165.31,266.1 L165.06,264.16 L164.8,261.65 L164.68,260.39 L164.55,259.14 L164.43,254.03 L164.35,249.43 L164.3,246.74Z M199.58,246.19 L199.63,246.47 L199.71,246.88 L199.83,247.44 L199.96,248 L200.08,248.56 L200.34,249.67 L200.59,250.41 L200.84,251.16 L201.22,252.28 L201.6,253.4 L202.1,254.89 L202.73,256.04 L203.36,257.19 L203.99,258.34 L204.62,259.49 L205.88,261.78 L207.14,264 L208.4,265.93 L209.66,267.86 L210.92,269.78 L212.18,271.16 L213.44,272.32 L214.7,273.48 L215.96,274.64 L217.22,275.8 L218.48,276.96 L219.74,278.04 L221,279.05 L222.26,280.06 L223.52,281.07 L224.78,282.08 L226.04,283.09 L227.3,284.06 L228.56,284.93 L229.82,285.81 L231.08,286.68 L232.34,287.55 L233.6,288.43 L234.86,289.31 L234.86,381.49 L233.6,377.16 L232.34,372.82 L231.08,368.49 L229.82,364.15 L228.56,359.82 L227.3,355.48 L226.04,350.13 L224.78,344.26 L223.52,338.39 L222.26,334.35 L221,330.55 L219.74,326.76 L218.48,322.36 L217.22,317.8 L215.96,313.47 L214.7,309.56 L213.44,305.65 L212.18,301.74 L210.92,297.74 L209.66,293.02 L208.4,289.38 L207.14,286.21 L205.88,283.09 L204.62,280.11 L203.99,278.62 L203.36,277.14 L202.73,275.4 L202.1,272.66 L201.6,270.47 L201.22,268.83 L200.84,267.19 L200.59,266.1 L200.34,264.16 L200.08,261.65 L199.96,260.39 L199.83,259.14 L199.71,254.03 L199.63,249.43 L199.58,246.57Z M234.86,246.18 L234.91,246.45 L234.99,246.87 L235.11,247.43 L235.24,247.98 L235.36,248.54 L235.62,249.65 L235.87,250.4 L236.12,251.14 L236.5,252.26 L236.88,253.38 L237.38,254.87 L238.01,256.02 L238.64,257.17 L239.27,258.32 L239.9,259.46 L241.16,261.76 L242.42,263.98 L243.68,265.9 L244.94,267.83 L246.2,269.76 L247.46,271.13 L248.72,272.29 L249.98,273.45 L251.24,274.61 L252.5,275.77 L253.76,276.93 L255.02,278.01 L256.28,279.02 L257.54,280.03 L258.8,281.04 L260.06,282.06 L261.32,283.07 L262.58,284.03 L263.84,284.9 L265.1,285.78 L266.36,286.65 L267.62,287.53 L268.88,288.4 L270.14,289.28 L270.14,381.49 L268.88,377.16 L267.62,372.82 L266.36,368.49 L265.1,364.15 L263.84,359.82 L262.58,355.48 L261.32,350.13 L260.06,344.26 L258.8,338.39 L257.54,334.35 L256.28,330.55 L255.02,326.76 L253.76,322.36 L252.5,317.8 L251.24,313.47 L249.98,309.56 L248.72,305.65 L247.46,301.74 L246.2,297.74 L244.94,293.02 L243.68,289.38 L242.42,286.21 L241.16,283.09 L239.9,280.11 L239.27,278.62 L238.64,277.14 L238.01,275.4 L237.38,272.66 L236.88,270.47 L236.5,268.83 L236.12,267.19 L235.87,266.1 L235.62,264.16 L235.36,261.65 L235.24,260.39 L235.11,259.14 L234.99,254.03 L234.91,249.43 L234.86,246.55Z M270.14,246.17 L270.19,246.45 L270.27,246.87 L270.39,247.43 L270.52,247.98 L270.64,248.54 L270.9,249.65 L271.15,250.4 L271.4,251.14 L271.78,252.26 L272.16,253.38 L272.66,254.87 L273.29,256.02 L273.92,257.17 L274.55,258.31 L275.18,259.46 L276.44,261.75 L277.7,263.97 L278.96,265.9 L280.22,267.83 L281.48,269.75 L282.74,271.13 L284,272.29 L285.26,273.45 L286.52,274.61 L287.78,275.77 L289.04,276.92 L290.3,278.01 L291.56,279.02 L292.82,280.03 L294.08,281.04 L295.34,282.05 L296.6,283.06 L297.86,284.03 L299.12,284.9 L300.38,285.78 L301.64,286.65 L302.9,287.53 L304.16,288.4 L305.42,289.28 L305.42,381.49 L304.16,377.16 L302.9,372.82 L301.64,368.49 L300.38,364.15 L299.12,359.82 L297.86,355.48 L296.6,350.13 L295.34,344.26 L294.08,338.39 L292.82,334.35 L291.56,330.55 L290.3,326.76 L289.04,322.36 L287.78,317.8 L286.52,313.47 L285.26,309.56 L284,305.65 L282.74,301.74 L281.48,297.74 L280.22,293.02 L278.96,289.38 L277.7,286.21 L276.44,283.09 L275.18,280.11 L274.55,278.62 L273.92,277.14 L273.29,275.4 L272.66,272.66 L272.16,270.47 L271.78,268.83 L271.4,267.19 L271.15,266.1 L270.9,264.16 L270.64,261.65 L270.52,260.39 L270.39,259.14 L270.27,254.03 L270.19,249.43 L270.14,246.55Z M305.42,246.17 L305.47,246.45 L305.55,246.87 L305.67,247.43 L305.8,247.98 L305.92,248.54 L306.18,249.65 L306.43,250.4 L306.68,251.14 L307.06,252.26 L307.44,253.38 L307.94,254.87 L308.57,256.02 L309.2,257.17 L309.83,258.33 L310.46,259.48 L311.72,261.78 L312.98,263.99 L314.24,265.84 L315.5,267.68 L316.76,269.53 L318.02,271.37 L319.28,272.76 L320.54,274.11 L321.8,275.46 L323.06,276.76 L324.32,277.89 L325.58,279.02 L326.84,280.14 L328.1,281.27 L329.36,282.39 L330.62,283.52 L331.88,284.64 L333.14,285.77 L334.4,286.89 L335.66,288.14 L336.92,289.51 L338.18,290.89 L339.44,292.26 L340.7,293.63 L341.96,295 L343.22,296.34 L344.48,297.62 L345.74,298.89 L347,300.16 L348.26,301.44 L349.52,302.71 L350.78,304.04 L352.04,305.39 L353.3,306.75 L354.56,308.1 L355.82,309.46 L357.08,310.81 L358.34,312.11 L359.6,313.32 L360.86,314.53 L362.12,315.74 L363.38,316.95 L364.64,318.16 L365.9,319.37 L367.16,320.58 L368.42,321.79 L369.68,323 L370.94,324.21 L372.2,325.42 L373.46,326.63 L374.72,327.84 L375.98,329.05 L377.24,330.22 L378.5,331.39 L379.76,332.56 L380.76,333.48 L380.76,514.94 L379.76,511.49 L378.5,507.13 L377.24,502.77 L375.98,498.4 L374.72,494.04 L373.46,489.68 L372.2,485.32 L370.94,480.95 L369.68,476.59 L368.42,472.23 L367.16,467.87 L365.9,463.5 L364.64,459.14 L363.38,454.78 L362.12,450.42 L360.86,446.05 L359.6,441.69 L358.34,437.33 L357.08,432.97 L355.82,428.6 L354.56,424.24 L353.3,419.88 L352.04,415.52 L350.78,411.15 L349.52,406.79 L348.26,402.43 L347,398.07 L345.74,393.7 L344.48,389.34 L343.22,384.98 L341.96,380.62 L340.7,376.26 L339.44,371.89 L338.18,367.53 L336.92,363.17 L335.66,358.81 L334.4,354.44 L333.14,348.76 L331.88,342.93 L330.62,337.31 L329.36,333.54 L328.1,329.77 L326.84,326 L325.58,323.49 L324.32,320.98 L323.06,318.47 L321.8,315.95 L320.54,312.2 L319.28,307.37 L318.02,302.55 L316.76,297.74 L315.5,293.02 L314.24,289.38 L312.98,286.21 L311.72,283.09 L310.46,280.11 L309.83,278.62 L309.2,277.14 L308.57,275.4 L307.94,272.66 L307.44,270.47 L307.06,268.83 L306.68,267.19 L306.43,266.1 L306.18,264.16 L305.92,261.65 L305.8,260.39 L305.67,259.14 L305.55,254.03 L305.47,249.43 L305.42,246.55Z"/></clipPath>
<line x1="156.1" y1="314.80" x2="380" y2="314.80" stroke="#c47a9e" stroke-width="1.05" stroke-dasharray="3.6 1.8"/>
<line x1="156.1" y1="314.80" x2="380" y2="314.80" stroke="#80829f" stroke-width="1.05" stroke-dasharray="3.6 1.8" clip-path="url(#bandC)"/>
<line x1="156.1" y1="298.05" x2="380" y2="298.05" stroke="#76d076" stroke-width="1.05" stroke-dasharray="3.6 1.8"/>
<line x1="156.1" y1="298.05" x2="380" y2="298.05" stroke="#7ccfac" stroke-width="1.05" stroke-dasharray="3.6 1.8" clip-path="url(#bandC)"/>
<path d="M164.3,246.74 L164.35,247.53 L164.43,248.66 L164.55,250.41 L164.68,252 L164.8,253.44 L165.06,255.85 L165.31,257.75 L165.56,259.23 L165.94,260.9 L166.32,262.13 L166.82,263.4 L167.45,264.71 L168.08,265.9 L168.71,267.04 L169.34,268.16 L170.6,270.37 L171.86,272.57 L173.12,274.75 L174.38,276.91 L175.64,279.05 L176.9,281.16 L178.16,283.26 L179.42,285.34 L180.68,287.39 L181.94,289.42 L183.2,291.42 L184.46,293.4 L185.72,295.36 L186.98,297.29 L188.24,299.19 L189.5,301.06 L190.76,302.91 L192.02,304.73 L193.28,306.53 L194.54,308.3 L195.8,310.04 L197.06,311.75 L198.32,313.44 L199.58,315.1 L199.58,246.57 L199.63,247.35 L199.71,248.47 L199.83,250.2 L199.96,251.77 L200.08,253.18 L200.34,255.56 L200.59,257.42 L200.84,258.88 L201.22,260.52 L201.6,261.74 L202.1,262.99 L202.73,264.29 L203.36,265.46 L203.99,266.59 L204.62,267.7 L205.88,269.9 L207.14,272.07 L208.4,274.23 L209.66,276.37 L210.92,278.48 L212.18,280.57 L213.44,282.65 L214.7,284.69 L215.96,286.72 L217.22,288.72 L218.48,290.69 L219.74,292.64 L221,294.57 L222.26,296.46 L223.52,298.33 L224.78,300.18 L226.04,301.99 L227.3,303.78 L228.56,305.54 L229.82,307.28 L231.08,308.99 L232.34,310.67 L233.6,312.33 L234.86,313.96 L234.86,246.55 L234.91,247.33 L234.99,248.45 L235.11,250.19 L235.24,251.75 L235.36,253.16 L235.62,255.54 L235.87,257.4 L236.12,258.86 L236.5,260.49 L236.88,261.7 L237.38,262.96 L238.01,264.26 L238.64,265.43 L239.27,266.56 L239.9,267.67 L241.16,269.86 L242.42,272.03 L243.68,274.18 L244.94,276.32 L246.2,278.43 L247.46,280.52 L248.72,282.59 L249.98,284.63 L251.24,286.65 L252.5,288.65 L253.76,290.62 L255.02,292.57 L256.28,294.49 L257.54,296.38 L258.8,298.25 L260.06,300.09 L261.32,301.9 L262.58,303.68 L263.84,305.44 L265.1,307.17 L266.36,308.88 L267.62,310.55 L268.88,312.21 L270.14,313.83 L270.14,246.55 L270.19,247.33 L270.27,248.45 L270.39,250.18 L270.52,251.75 L270.64,253.16 L270.9,255.53 L271.15,257.4 L271.4,258.85 L271.78,260.49 L272.16,261.7 L272.66,262.96 L273.29,264.25 L273.92,265.42 L274.55,266.55 L275.18,267.66 L276.44,269.85 L277.7,272.03 L278.96,274.18 L280.22,276.31 L281.48,278.42 L282.74,280.51 L284,282.58 L285.26,284.62 L286.52,286.65 L287.78,288.64 L289.04,290.61 L290.3,292.56 L291.56,294.48 L292.82,296.37 L294.08,298.24 L295.34,300.07 L296.6,301.89 L297.86,303.67 L299.12,305.43 L300.38,307.16 L301.64,308.86 L302.9,310.54 L304.16,312.19 L305.42,313.82 L305.42,246.55 L305.47,247.33 L305.55,248.45 L305.67,250.18 L305.8,251.75 L305.92,253.16 L306.18,255.53 L306.43,257.4 L306.68,258.85 L307.06,260.49 L307.44,261.7 L307.94,262.96 L308.57,264.25 L309.2,265.42 L309.83,266.55 L310.46,267.66 L311.72,269.85 L312.98,272.03 L314.24,274.18 L315.5,276.31 L316.76,278.42 L318.02,280.51 L319.28,282.58 L320.54,284.62 L321.8,286.64 L323.06,288.64 L324.32,290.61 L325.58,292.56 L326.84,294.48 L328.1,296.37 L329.36,298.23 L330.62,300.07 L331.88,301.89 L333.14,303.67 L334.4,305.43 L335.66,307.16 L336.92,308.86 L338.18,310.54 L339.44,312.19 L340.7,313.82 L341.96,315.42 L343.22,317 L344.48,318.55 L345.74,320.09 L347,321.6 L348.26,323.09 L349.52,324.55 L350.78,326 L352.04,327.44 L353.3,328.85 L354.56,330.25 L355.82,331.63 L357.08,333 L358.34,334.35 L359.6,335.69 L360.86,337.02 L362.12,338.34 L363.38,339.64 L364.64,340.94 L365.9,342.22 L367.16,343.5 L368.42,344.77 L369.68,346.03 L370.94,347.28 L372.2,348.53 L373.46,349.77 L374.72,351 L375.98,352.23 L377.24,353.46 L378.5,354.67 L379.76,355.89 L380.76,356.85" fill="none" stroke="#1b4882" stroke-width="1.4" stroke-linejoin="round"/>
</g>
<rect x="156.1" y="215.2" width="223.90" height="140.00" fill="none" stroke="#707070" stroke-width="1.1"/>
<path d="M164.30,355.2 v3 M189.50,355.2 v3 M214.70,355.2 v3 M239.90,355.2 v3 M265.10,355.2 v3 M290.30,355.2 v3 M315.50,355.2 v3 M340.70,355.2 v3 M365.90,355.2 v3 M156.1,349.90 h-3 M156.1,314.80 h-3 M156.1,279.70 h-3 M156.1,244.60 h-3" stroke="#707070" stroke-width="1" fill="none"/>
<text x="164.30" y="370.20" font-size="9.6" text-anchor="middle" fill="#404040">0</text>
<text x="189.50" y="370.20" font-size="9.6" text-anchor="middle" fill="#404040">10</text>
<text x="214.70" y="370.20" font-size="9.6" text-anchor="middle" fill="#404040">20</text>
<text x="239.90" y="370.20" font-size="9.6" text-anchor="middle" fill="#404040">30</text>
<text x="265.10" y="370.20" font-size="9.6" text-anchor="middle" fill="#404040">40</text>
<text x="290.30" y="370.20" font-size="9.6" text-anchor="middle" fill="#404040">50</text>
<text x="315.50" y="370.20" font-size="9.6" text-anchor="middle" fill="#404040">60</text>
<text x="340.70" y="370.20" font-size="9.6" text-anchor="middle" fill="#404040">70</text>
<text x="365.90" y="370.20" font-size="9.6" text-anchor="middle" fill="#404040">80</text>
<text transform="translate(150.50,349.90) rotate(-90)" font-size="9.6" text-anchor="middle" fill="#404040">0.1</text>
<text transform="translate(150.50,314.80) rotate(-90)" font-size="9.6" text-anchor="middle" fill="#404040">1.0</text>
<text transform="translate(150.50,279.70) rotate(-90)" font-size="9.6" text-anchor="middle" fill="#404040">10.0</text>
<text transform="translate(150.50,244.60) rotate(-90)" font-size="9.6" text-anchor="middle" fill="#404040">100.0</text>
<text x="268.05" y="381.20" font-size="9.9" text-anchor="middle" fill="#404040">Time (Day)</text>
<text transform="translate(138.70,285.20) rotate(-90)" font-size="9.7" text-anchor="middle" fill="#404040">FIX activity (IU/dL)</text>
<text x="268.0" y="209.0" font-size="10.73" text-anchor="middle" fill="#1a1a1a">100 IU/kg of rFIXFc every 14 days</text>
<text x="149.6" y="209.0" font-size="11" font-weight="bold" fill="#111">C</text>
<line x1="328.2" y1="231.25" x2="342.6" y2="231.25" stroke="#5d8ec4" stroke-width="0.9"/>
<line x1="328.2" y1="237.3" x2="342.6" y2="237.3" stroke="#c47a9e" stroke-width="0.9" stroke-dasharray="2.2 1"/>
<line x1="328.2" y1="243.0" x2="342.6" y2="243.0" stroke="#76d076" stroke-width="0.9" stroke-dasharray="2.2 1"/>
<text x="348.4" y="233.25" font-size="5.6" fill="#555">Mean</text>
<text x="348.4" y="239.30" font-size="5.6" fill="#555">1%</text>
<text x="348.4" y="245.00" font-size="5.6" fill="#555">3%</text>
</svg>
</body></html>
